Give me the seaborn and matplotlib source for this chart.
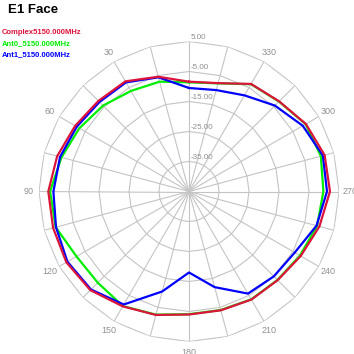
import numpy as np
import seaborn as sns
import matplotlib.pyplot as plt

plt.rcParams["font.family"] = ["Liberation Sans", "DejaVu Sans"]

# antenna pattern, gain in dB every 15 degrees (0 = top, counter-clockwise)
angles = [0, 15, 30, 45, 60, 75, 90, 105, 120, 135, 150, 165,
          180, 195, 210, 225, 240, 255, 270, 285, 300, 315, 330, 345]
complex_db = [-8.4, -5.4, -2.6, -2.3, -1.2, 0.5, 1.9, 1.9, 2.2, 1.5, -0.8, -2.4,
              -4.0, -4.0, -3.4, -3.2, -2.0, 0.0, 2.0, 1.8, 0.0, -2.5, -3.6, -7.6]
ant0_db = [-8.6, -7.1, -6.3, -4.5, -2.8, -1.0, 1.3, 1.0, -1.7, -2.0, -0.9, -2.5,
           -4.1, -4.1, -3.5, -3.3, -2.3, -0.8, -0.2, 0.5, -0.1, -2.6, -3.7, -7.7]
ant1_db = [-10.5, -5.6, -3.0, -2.8, -1.8, -0.5, 0.2, 0.9, 1.8, 1.2, -1.5, -10.5,
           -18.0, -12.0, -5.7, -5.0, -4.3, -1.0, 1.0, 1.2, -1.2, -4.5, -8.0, -10.0]

names = ["Complex5150.000MHz", "Ant0_5150.000MHz", "Ant1_5150.000MHz"]
values = [complex_db, ant0_db, ant1_db]
colors = ["#dc143c", "#00ee00", "#0000ff"]

ring_values = [5, -5, -15, -25, -35]
ring_labels = ["5.00", "-5.00", "-15.00", "-25.00", "-35.00"]
angle_labels = [30, 60, 90, 120, 150, 180, 210, 240, 270, 300, 330]
r_min, r_max = -45, 5
grid_color = "#c4c4c4"

fig = plt.figure(figsize=(3.54, 3.54), dpi=100)
ax = fig.add_axes([39 / 354, 12.5 / 354, 300 / 354, 300 / 354], projection="polar")
ax.set_theta_zero_location("N")
ax.set_theta_direction(1)
ax.set_ylim(r_min, r_max)
ax.grid(False)
ax.set_xticks([])
ax.set_yticks([])
ax.spines["polar"].set_visible(False)
ax.patch.set_visible(False)

# polygon grid: straight segments between the spokes
spoke_t = np.deg2rad(np.arange(0, 361, 15))
for rv in ring_values:
    ax.plot(spoke_t, [rv] * len(spoke_t), color=grid_color, lw=0.8, zorder=1)
for t in spoke_t[:-1]:
    ax.plot([t, t], [r_min, r_max], color=grid_color, lw=0.8, zorder=1)

for rv, lab in zip(ring_values, ring_labels):
    ax.annotate(lab, xy=(0, rv), xytext=(1.5, 0.5), textcoords="offset points",
                ha="left", va="bottom", fontsize=5.8, color="#909090")

for a in angle_labels:
    ax.text(np.deg2rad(a), 8.6, str(a), ha="center", va="center",
            fontsize=6.5, color="#909090", clip_on=False)

# draw green, then blue, then red on top
theta = np.deg2rad(angles + [360])
for i in [1, 2, 0]:
    vals = values[i]
    sns.lineplot(x=theta, y=vals + vals[:1], ax=ax, sort=False, estimator=None,
                 color=colors[i], lw=1.6, zorder=3)
ax.set_xlabel("")
ax.set_ylabel("")

fig.text(8 / 354, 1 - 4 / 354, "E1 Face", ha="left", va="top",
         fontsize=9.5, fontweight="bold")
for i, name in enumerate(names):
    fig.text(2 / 354, 1 - (32.5 + 11 * i) / 354, name, ha="left", va="center",
             fontsize=5.5, fontweight="bold", color=colors[i])

fig.savefig("out.png", dpi=100, facecolor="white")
